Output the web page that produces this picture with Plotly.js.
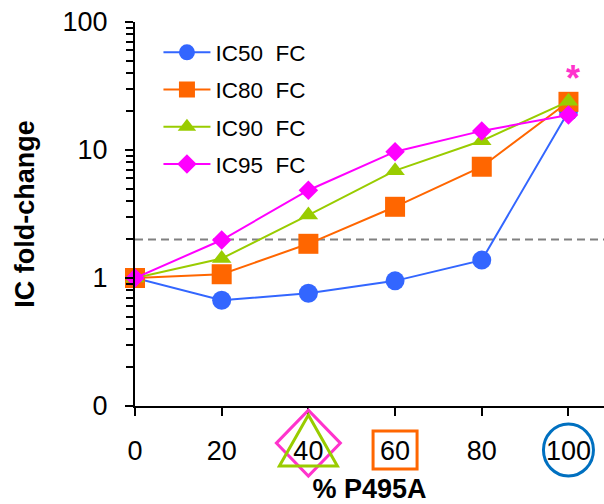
<!DOCTYPE html>
<html>
<head>
<meta charset="utf-8">
<script src="https://cdn.plot.ly/plotly-3.0.1.min.js"></script>
<style>
  html, body { margin: 0; padding: 0; background: #fff; }
  #chart { width: 604px; height: 504px; }
</style>
</head>
<body>
<div id="chart"></div>
<script>
// Percentage of P495A in the mix
const pctP495A = [0, 20, 40, 60, 80, 100];

// Fold-change of each inhibitory concentration vs. wild type
const ic50FC = [1, 0.67, 0.76, 0.95, 1.38, 20];
const ic80FC = [1, 1.07, 1.85, 3.6, 7.4, 23.8];
const ic90FC = [1, 1.42, 3.1, 6.9, 11.8, 24];
const ic95FC = [1, 1.98, 4.85, 9.7, 14.1, 18.8];

const seriesNames = ['IC50  FC', 'IC80  FC', 'IC90  FC', 'IC95  FC'];

// Threshold drawn as the dashed reference line
const thresholdFC = 2;

// Axis tick labels
const xTicks = [0, 20, 40, 60, 80, 100];
const yTickVals = [0.1, 1, 10, 100];
const yTickText = ['0', '1', '10', '100'];
const yMinorVals = [0.2, 0.3, 0.4, 0.5, 0.6, 0.7, 0.8, 0.9,
                    2, 3, 4, 5, 6, 7, 8, 9,
                    20, 30, 40, 50, 60, 70, 80, 90];

const FONT = 'Arial, "Liberation Sans", sans-serif';

function series(y, name, color, symbol, size) {
  return {
    x: pctP495A, y: y, name: name, type: 'scatter', mode: 'lines+markers',
    legendgroup: name, cliponaxis: false,
    line: { color: color, width: 2 },
    marker: { color: color, symbol: symbol, size: size }
  };
}

const traces = [
  series(ic50FC, seriesNames[0], '#3366FF', 'circle', 19),
  series(ic80FC, seriesNames[1], '#FF6600', 'square', 20),
  series(ic90FC, seriesNames[2], '#99CC00', 'triangle-up', 17),
  series(ic95FC, seriesNames[3], '#FF00FF', 'diamond', 15)
];

// Outlined symbols around selected x tick labels
function outline(xVal, yPaper, path, color) {
  return {
    type: 'path', xref: 'x', yref: 'paper',
    xsizemode: 'pixel', ysizemode: 'pixel',
    xanchor: xVal, yanchor: yPaper, path: path,
    line: { color: color, width: 3 }, fillcolor: 'rgba(0,0,0,0)', layer: 'above'
  };
}

const layout = {
  width: 604, height: 504,
  margin: { l: 135, r: 0, t: 22, b: 98 },
  paper_bgcolor: '#ffffff', plot_bgcolor: '#ffffff',
  font: { family: FONT, color: '#000000' },
  showlegend: true,
  legend: {
    x: 0.05, y: 0.976, xanchor: 'left', yanchor: 'top',
    font: { family: FONT, size: 22.5, color: '#000000' },
    bgcolor: 'rgba(0,0,0,0)', traceorder: 'grouped', tracegroupgap: 5,
    itemwidth: 47, itemclick: false
  },
  xaxis: {
    range: [0, 108.2], tickmode: 'array', tickvals: xTicks,
    showline: true, linecolor: '#000000', linewidth: 2,
    ticks: 'outside', ticklen: 8, tickwidth: 2, tickcolor: '#000000',
    showgrid: false, zeroline: false,
    tickfont: { family: FONT, size: 27, color: '#000000' },
    ticklabelstandoff: 12,
    title: { text: '<b>% P495A</b>', font: { family: FONT, size: 27, color: '#000000' }, standoff: 14 }
  },
  yaxis: {
    type: 'log', range: [-1, 2],
    tickmode: 'array', tickvals: yTickVals, ticktext: yTickText,
    showline: true, linecolor: '#000000', linewidth: 2,
    ticks: 'outside', ticklen: 8, tickwidth: 2, tickcolor: '#000000',
    minor: { tickmode: 'array', tickvals: yMinorVals, ticks: 'outside', ticklen: 7, tickwidth: 2, tickcolor: '#000000', showgrid: false },
    showgrid: false, zeroline: false,
    tickfont: { family: FONT, size: 27, color: '#000000' },
    ticklabelstandoff: 12,
    title: { text: '<b>IC fold-change</b>', font: { family: FONT, size: 27, color: '#000000' }, standoff: 20 }
  },
  shapes: [
    {
      type: 'line', xref: 'paper', x0: 0, x1: 1, yref: 'y', y0: thresholdFC, y1: thresholdFC,
      line: { color: '#808080', width: 2, dash: '8px,5px' }, layer: 'below'
    },
    outline(40, -0.0966, 'M-32,0 L0,33 L32,0 L0,-33 Z', '#FF33CC'),
    outline(40, -0.0966, 'M0,28 L29,-23 L-29,-23 Z', '#99CC00'),
    outline(60, -0.1146, 'M-22,-19 L22,-19 L22,19 L-22,19 Z', '#FF6600'),
    {
      type: 'circle', xref: 'x', yref: 'paper', xsizemode: 'pixel', ysizemode: 'pixel',
      xanchor: 100, yanchor: -0.1146, x0: -25, x1: 25, y0: -26, y1: 26,
      line: { color: '#0070C0', width: 3 }, layer: 'above'
    }
  ],
  annotations: [
    {
      x: 100, y: Math.log10(Math.max(...ic80FC) * 1.75), xref: 'x', yref: 'y',
      xshift: 5, yshift: -8,
      text: '<b>*</b>', showarrow: false,
      font: { family: FONT, size: 36, color: '#FF33CC' }
    }
  ]
};

Plotly.newPlot('chart', traces, layout, { displayModeBar: false, staticPlot: true });
</script>
</body>
</html>
